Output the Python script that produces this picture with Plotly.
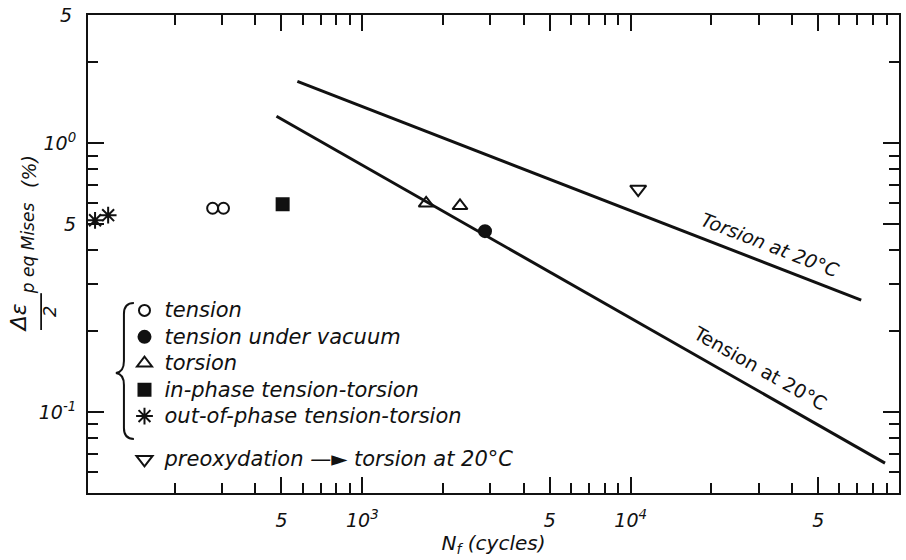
import plotly.graph_objects as go

# ---- fatigue data: equivalent plastic strain amplitude (%) vs cycles to failure ----
tension_N = [277, 304]
tension_amp = [0.573, 0.573]
vacuum_N = [2866]
vacuum_amp = [0.471]
torsion_N = [1730, 2313]
torsion_amp = [0.598, 0.585]
inphase_N = [505]
inphase_amp = [0.593]
outphase_N = [101, 113]
outphase_amp = [0.517, 0.540]
preox_N = [10670]
preox_amp = [0.675]

# ---- reference Manson-Coffin lines at 20 °C (end points) ----
torsion20_N = [573, 72300]
torsion20_amp = [1.70, 0.261]
tension20_N = [479, 88700]
tension20_amp = [1.26, 0.0646]

# ---- axis ticks ----
x_tickvals = [500, 1000, 5000, 10000, 50000]
x_ticktext = ["5", "10<sup>3</sup>", "5", "10<sup>4</sup>", "5"]
x_minor = [m * d for d in (100, 1000, 10000) for m in (2, 3, 4, 6, 7, 8, 9)]
y_tickvals = [1, 0.5, 0.1]
y_ticktext = ["10<sup>0</sup>", "5", "10<sup>-1</sup>"]
y_minor = [2, 0.9, 0.8, 0.7, 0.6, 0.4, 0.3, 0.2, 0.09, 0.08, 0.07, 0.06]

FONT = "DejaVu Sans"
INK = "#111111"


def entry(text):
    return '<span style="font-size:21px">' + text + "</span>"


fig = go.Figure()

fig.add_trace(go.Scatter(x=torsion20_N, y=torsion20_amp, mode="lines",
                         line=dict(color=INK, width=3), showlegend=False))
fig.add_trace(go.Scatter(x=tension20_N, y=tension20_amp, mode="lines",
                         line=dict(color=INK, width=3), showlegend=False))

series = [
    ("tension", tension_N, tension_amp, "circle-open", 11, "a"),
    ("tension under vacuum", vacuum_N, vacuum_amp, "circle", 12, "a"),
    ("torsion", torsion_N, torsion_amp, "triangle-up-open", 13, "a"),
    ("in-phase tension-torsion", inphase_N, inphase_amp, "square", 12, "a"),
    ("out-of-phase tension-torsion", outphase_N, outphase_amp, "asterisk-open", 14, "a"),
    ("preoxydation \u2014\u25ba torsion at 20\u00b0C", preox_N, preox_amp,
     "triangle-down-open", 14, "b"),
]
for name, xs, ys, sym, size, grp in series:
    fig.add_trace(go.Scatter(
        x=xs, y=ys, mode="markers", name=entry(name), legendgroup=grp,
        cliponaxis=False,
        marker=dict(symbol=sym, size=size, color=INK,
                    line=dict(color=INK, width=2)),
    ))

axis_common = dict(
    type="log", showline=True, linecolor=INK, linewidth=2, mirror="ticks",
    ticks="inside", ticklen=16, tickwidth=1.5, tickcolor=INK,
    showgrid=False, zeroline=False, tickmode="array",
    tickfont=dict(family=FONT, size=19, color=INK, style="italic"),
)

fig.update_xaxes(
    **axis_common,
    range=[1.978, 5.0],
    tickvals=x_tickvals, ticktext=x_ticktext,
    ticklabelstandoff=9,
    minor=dict(tickmode="array", tickvals=x_minor, ticks="inside",
               ticklen=10, tickwidth=1.5, tickcolor=INK),
    title=dict(text="N<sub>f</sub> (cycles)", standoff=6,
               font=dict(family=FONT, size=20, color=INK, style="italic")),
)
fig.update_yaxes(
    **axis_common,
    range=[-1.30103, 0.47712],
    tickvals=y_tickvals, ticktext=y_ticktext,
    ticklabelstandoff=6,
    minor=dict(tickmode="array", tickvals=y_minor, ticks="inside",
               ticklen=10, tickwidth=1.5, tickcolor=INK),
)

ital = dict(family=FONT, color=INK, style="italic")
side = dict(xref="paper", yref="paper", xanchor="center", yanchor="middle",
            textangle=-90, showarrow=False)
annotations = [
    # upper y tick label
    dict(text="5", xref="paper", yref="paper", x=0, y=1, xanchor="right",
         yanchor="middle", xshift=-14, showarrow=False, font=dict(size=19, **ital)),
    # y axis title, written as a fraction
    dict(text="\u0394\u03b5", x=-0.0861, y=0.366, font=dict(size=22, **ital), **side),
    dict(text="p eq Mises", x=-0.0738, y=0.5126, font=dict(size=17, **ital), **side),
    dict(text="(%)", x=-0.0726, y=0.672, font=dict(size=19, **ital), **side),
    dict(text="2", x=-0.0467, y=0.3787, font=dict(size=18, **ital), **side),
    # labels of the 20 °C curves
    dict(text="Torsion at 20\u00b0C", x=4.521, y=-0.379, textangle=21.2,
         showarrow=False, font=dict(size=19, **ital)),
    dict(text="Tension at 20\u00b0C", x=4.483, y=-0.836, textangle=29.6,
         showarrow=False, font=dict(size=19, family=FONT, color=INK)),
]

shapes = [
    # fraction bar of the y axis title
    dict(type="line", xref="paper", yref="paper", x0=-0.0578, x1=-0.0578,
         y0=0.418, y1=0.341, line=dict(color=INK, width=1.8)),
    # curly brace grouping the first five legend entries
    dict(type="path", xref="paper", yref="paper",
         path=("M 0.0566,0.3975 Q 0.0443,0.3975 0.0443,0.3745 L 0.0443,0.2762 "
               "Q 0.0443,0.2531 0.0344,0.2510 Q 0.0443,0.2490 0.0443,0.2259 "
               "L 0.0443,0.1360 Q 0.0443,0.1130 0.0566,0.1130"),
         line=dict(color=INK, width=2)),
]

fig.update_layout(
    width=906, height=560,
    margin=dict(l=88, r=5, t=15, b=67),
    paper_bgcolor="white", plot_bgcolor="white",
    font=dict(family=FONT, color=INK),
    showlegend=True,
    legend=dict(x=0.045, y=0.42, xanchor="left", yanchor="top",
                bgcolor="rgba(0,0,0,0)", traceorder="grouped",
                tracegroupgap=17, itemwidth=30,
                font=dict(family=FONT, size=18, color=INK, style="italic")),
    annotations=annotations,
    shapes=shapes,
)

fig.write_html("out.html")
